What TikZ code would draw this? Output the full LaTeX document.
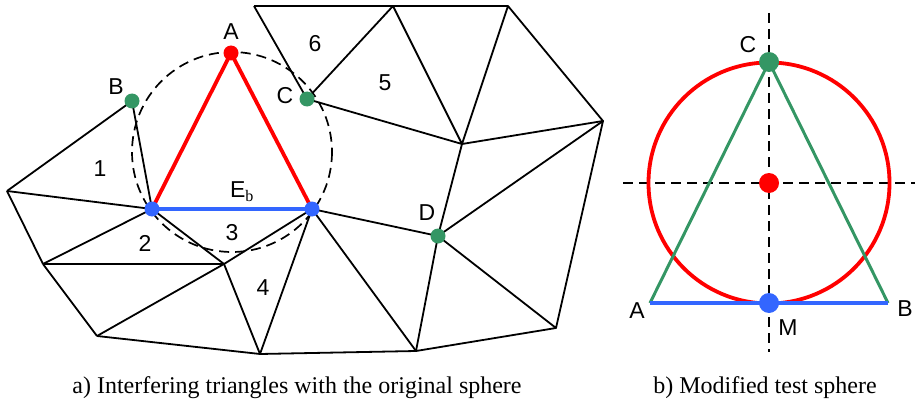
\documentclass[tikz,border=0pt]{standalone}
\usepackage{fontspec}
\setmainfont{Liberation Serif}
\setsansfont{Liberation Sans}
\definecolor{dgreen}{RGB}{52,150,100}
\definecolor{dblue}{RGB}{51,102,255}
\definecolor{dred}{RGB}{255,0,0}
\tikzset{
  mesh/.style={line width=1.8pt, black, line join=round},
  redline/.style={line width=3.8pt, dred},
  blueline/.style={line width=3.8pt, dblue},
  greenline/.style={line width=3pt, dgreen},
  dashline/.style={line width=1.7pt, dash pattern=on 10pt off 6pt},
  dot/.style={circle, inner sep=0pt, minimum size=#1},
  lbl/.style={font=\fontsize{23}{25}\selectfont\sffamily, inner sep=0pt},
  captxt/.style={font=\fontsize{24}{26}\selectfont\rmfamily, inner sep=0pt}
}
\begin{document}
\begin{tikzpicture}[x=1pt,y=-1pt]
\useasboundingbox (0,0) rectangle (916,404);
% mesh vertices
\coordinate (L) at (7,191);
\coordinate (P1) at (152,209);
\coordinate (P2) at (312,209);
\coordinate (Q1) at (43,264);
\coordinate (Q2) at (224,264);
\coordinate (Q3) at (97,336);
\coordinate (Q4) at (260,354);
\coordinate (Q5) at (416,351);
\coordinate (Q6) at (556,328);
\coordinate (T1) at (254,6);
\coordinate (T2) at (393,6);
\coordinate (T3) at (508,6);
\coordinate (R) at (603,121);
\coordinate (M1) at (462,144);
\coordinate (Bv) at (132,101);
\coordinate (Cv) at (307,99);
\coordinate (Dv) at (438,236);
\coordinate (Av) at (231,53);
% dashed circle
\draw[dashline] (232,152) circle[radius=100];
% mesh edges
\draw[mesh] (T1) -- (T2) -- (T3);
\draw[mesh] (T1) -- (Cv) -- (T2) -- (M1) -- (T3) -- (R) -- (M1) -- (Cv);
\draw[mesh] (M1) -- (Dv) -- (R) -- (Q6) -- (Dv) -- (Q5) -- (Q6);
\draw[mesh] (P2) -- (Dv);
\draw[mesh] (P2) -- (Q5);
\draw[mesh] (P2) -- (Q4);
\draw[mesh] (P2) -- (Q2);
\draw[mesh] (Q3) -- (Q4) -- (Q5);
\draw[mesh] (Q2) -- (Q4);
\draw[mesh] (Q3) -- (Q2);
\draw[mesh] (Q1) -- (Q3);
\draw[mesh] (Q1) -- (Q2);
\draw[mesh] (Q1) -- (P1) -- (Q2);
\draw[mesh] (L) -- (Q1);
\draw[mesh] (L) -- (P1);
\draw[mesh] (L) -- (Bv) -- (P1);
% highlighted
\draw[redline] (P1) -- (Av) -- (P2);
\draw[blueline] (P1) -- (P2);
% dots
\node[dot=15pt, fill=dred] (A) at (Av) {};
\node[dot=15pt, fill=dgreen] (B) at (Bv) {};
\node[dot=15pt, fill=dgreen] (C) at (Cv) {};
\node[dot=15pt, fill=dgreen] (D) at (Dv) {};
\node[dot=15pt, fill=dblue] (E1) at (P1) {};
\node[dot=15pt, fill=dblue] (E2) at (P2) {};
% labels
\node[lbl] (lA) at (231,32) {A};
\node[lbl] (lB) at (116,87) {B};
\node[lbl] (lC) at (285,96) {C};
\node[lbl] (lD) at (427,213) {D};
\node[lbl] (l6) at (315,44) {6};
\node[lbl] (l5) at (385,83) {5};
\node[lbl] (l1) at (100,169) {1};
\node[lbl] (l2) at (145,243) {2};
\node[lbl] (l3) at (232,233) {3};
\node[lbl] (l4) at (263,288) {4};
\node[lbl] (lE) at (242,192) {E$_{\mathrm{b}}$};
% right figure
\coordinate (ctr) at (769,183);
\coordinate (vt) at (769,13);
\coordinate (vb) at (769,352);
\coordinate (hl) at (623,183);
\coordinate (hr) at (915,183);
\coordinate (pA) at (650,303);
\coordinate (pB) at (888,303);
\coordinate (pC) at (769,62);
\coordinate (pM) at (769,303);
\draw[dashline] (vt) -- (vb);
\draw[dashline] (hl) -- (hr);
\draw[line width=3.8pt, dred] (ctr) circle[radius=120.5];
\draw[greenline] (pA) -- (pC) -- (pB);
\draw[blueline] (pA) -- (pB);
\node[dot=20pt, fill=dgreen] (rC) at (pC) {};
\node[dot=20pt, fill=dred] (rO) at (ctr) {};
\node[dot=20pt, fill=dblue] (rM) at (pM) {};
\node[lbl] (rlC) at (748,45) {C};
\node[lbl] (rlA) at (637,311) {A};
\node[lbl] (rlB) at (905,309) {B};
\node[lbl] (rlM) at (788,328) {M};
% captions
\node[captxt] (capa) at (297,388) {a) Interfering triangles with the original sphere};
\node[captxt] (capb) at (765,388) {b) Modified test sphere};
\end{tikzpicture}
\end{document}
